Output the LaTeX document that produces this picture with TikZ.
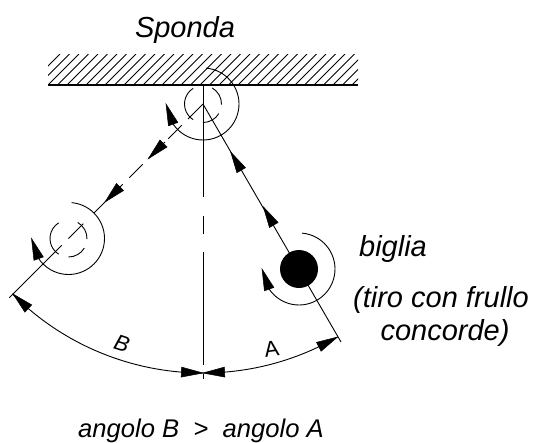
\documentclass[tikz,border=0pt]{standalone}
\usepackage{fontspec}
\setmainfont{Liberation Sans}
\usetikzlibrary{calc}
\tikzset{
  thinline/.style={line width=0.9pt,black},
  lab/.style={inner sep=0pt,anchor=base,font=\fontsize{29}{34}\selectfont\itshape},
}
% solid arrow head from base point to tip point
\newcommand{\headfrom}[2]{%
  \filldraw[black,line width=0.5pt,line join=miter,miter limit=20] (#2) -- ($(#1)!5pt!90:(#2)$) -- ($(#1)!5pt!-90:(#2)$) -- cycle;
}
% big spin arc with its arrow round a named centre
\newcommand{\spinarc}[1]{%
  \draw[thinline] ([shift={(-85:36)}]#1) arc[start angle=-85,end angle=146,radius=36];
  \coordinate (sb) at ([shift={(146:36)}]#1);
  \coordinate (st) at ([shift={(-37,0)}]#1);
  \headfrom{sb}{st}
}
% dashed ghost-ball circle
\newcommand{\ghost}[1]{%
  \draw[thinline] ([shift={(-60:18.5)}]#1) arc[start angle=-60,end angle=2,radius=18.5];
  \draw[thinline] ([shift={(31:18.5)}]#1) arc[start angle=31,end angle=90,radius=18.5];
  \draw[thinline] ([shift={(122:18.5)}]#1) arc[start angle=122,end angle=238,radius=18.5];
}
\begin{document}
\begin{tikzpicture}[x=1pt,y=-1pt]
\useasboundingbox (0,0) rectangle (533,442);
\coordinate (C) at (203,104);
\coordinate (L) at (68.5,238.5);
\coordinate (R) at (299,269);
% wall hatching
\begin{scope}
  \clip (48,54) rectangle (358,85);
  \foreach \k in {0,...,35} {
    \pgfmathsetmacro{\s}{114+9.5*\k}
    \draw[thinline] (\s-85,85) -- (\s-54,54);
  }
\end{scope}
\draw[line width=1.1pt] (48,85) -- (358,85);
% centre line
\draw[thinline] (203,85) -- (203,197);
\draw[thinline] (203,216) -- (203,234);
\draw[thinline] (203,252) -- (203,365);
\draw[thinline] (203,374) -- (203,379);
% ghost balls and spin arcs
\ghost{C}
\ghost{L}
\spinarc{C}
\spinarc{L}
\spinarc{R}
% dashed path on the left
\draw[thinline] (C) -- (188,119);
\draw[thinline] (181.7,125.3) -- (168.3,138.7);
\draw[thinline] (165,142) -- (148.3,158.7);
\draw[thinline] (142.7,164.3) -- (129.3,177.7);
\draw[thinline] (122.7,184.3) -- (94,213);
\draw[thinline] (83.3,223.7) -- (L);
\draw[thinline] (61.7,245.3) -- (9.3,297.7);
\coordinate (a1b) at (163.5,143.5); \coordinate (a1t) at (148.3,158.7);
\coordinate (a2b) at (120,187); \coordinate (a2t) at (105,202);
\headfrom{a1b}{a1t}
\headfrom{a2b}{a2t}
% right path
\coordinate (Rend) at (341,342);
\draw[thinline] (C) -- (Rend);
\coordinate (a3b) at (241.2,170.2); \coordinate (a3t) at (230.7,152);
\coordinate (a4b) at (273.8,225); \coordinate (a4t) at (263.3,206.8);
\headfrom{a3b}{a3t}
\headfrom{a4b}{a4t}
\fill[black] (R) circle[radius=19];
% angle arcs
\draw[thinline] ([shift={(135:269)}]C) arc[start angle=135,end angle=60,radius=269];
\coordinate (bbt) at (13,294); \coordinate (bbb) at (28.3,308.5);
\coordinate (bmb) at (181.4,372.1); \coordinate (amb) at (224.6,372.1);
\coordinate (mid) at (203,373);
\coordinate (aat) at (337.5,337); \coordinate (aab) at (318.8,346.8);
\headfrom{bbb}{bbt}
\headfrom{bmb}{mid}
\headfrom{amb}{mid}
\headfrom{aab}{aat}
% labels
\node[lab] (sponda) at (185,37) {Sponda};
\node[lab] (biglia) at (393,256) {biglia};
\node[lab] (tiro) at (441,307) {(tiro con frullo};
\node[lab] (conc) at (445,340) {concorde)};
\node[inner sep=0pt,font=\fontsize{25.6}{30}\selectfont\itshape,anchor=base] (cmp) at (201,437) {angolo B\ \ >\ \ angolo A};
\node[inner sep=0pt,font=\fontsize{22}{24}\selectfont,rotate=8] (la) at (271.5,349) {A};
\node[inner sep=0pt,font=\fontsize{22}{24}\selectfont\itshape,rotate=-18] (lb) at (122,344) {B};
\end{tikzpicture}
\end{document}
